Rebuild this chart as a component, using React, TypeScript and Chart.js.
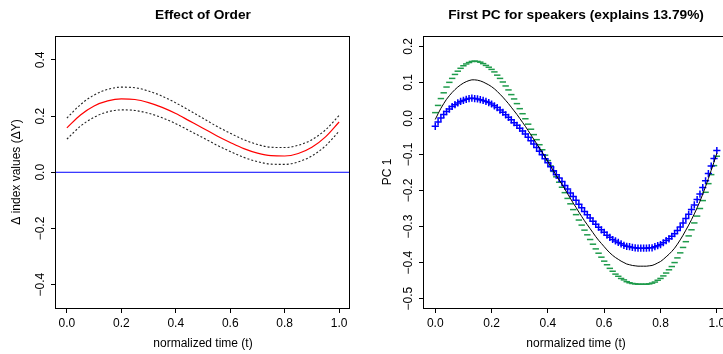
import React, { useEffect, useRef } from 'react';
import { Chart, registerables } from 'chart.js';

Chart.register(...registerables);

const FONT_FAMILY = "'Liberation Sans', Arial, Helvetica, sans-serif";

// ---------- Left panel: Effect of Order ----------
const orderTime = [0, 0.05, 0.1, 0.15, 0.2, 0.25, 0.3, 0.35, 0.4, 0.45, 0.5, 0.55, 0.6, 0.65, 0.7, 0.75, 0.8, 0.85, 0.9, 0.95, 1.0];
const orderEffect = [0.158, 0.204, 0.236, 0.254, 0.261, 0.259, 0.248, 0.231, 0.209, 0.183, 0.157, 0.130, 0.106, 0.084, 0.068, 0.059, 0.058, 0.067, 0.089, 0.126, 0.179];
const orderUpper = [0.193, 0.241, 0.275, 0.295, 0.303, 0.301, 0.289, 0.271, 0.247, 0.220, 0.192, 0.164, 0.139, 0.116, 0.099, 0.089, 0.088, 0.096, 0.116, 0.151, 0.202];
const orderLower = [0.118, 0.164, 0.196, 0.215, 0.222, 0.220, 0.210, 0.194, 0.173, 0.148, 0.123, 0.097, 0.074, 0.053, 0.038, 0.029, 0.028, 0.037, 0.058, 0.094, 0.146];
const zeroLineX = [-0.04, 1.04];
const zeroLineY = [0, 0];

// ---------- Right panel: First PC for speakers ----------
const pcTime = [
  0.00, 0.01, 0.02, 0.03, 0.04, 0.05, 0.06, 0.07, 0.08, 0.09,
  0.10, 0.11, 0.12, 0.13, 0.14, 0.15, 0.16, 0.17, 0.18, 0.19,
  0.20, 0.21, 0.22, 0.23, 0.24, 0.25, 0.26, 0.27, 0.28, 0.29,
  0.30, 0.31, 0.32, 0.33, 0.34, 0.35, 0.36, 0.37, 0.38, 0.39,
  0.40, 0.41, 0.42, 0.43, 0.44, 0.45, 0.46, 0.47, 0.48, 0.49,
  0.50, 0.51, 0.52, 0.53, 0.54, 0.55, 0.56, 0.57, 0.58, 0.59,
  0.60, 0.61, 0.62, 0.63, 0.64, 0.65, 0.66, 0.67, 0.68, 0.69,
  0.70, 0.71, 0.72, 0.73, 0.74, 0.75, 0.76, 0.77, 0.78, 0.79,
  0.80, 0.81, 0.82, 0.83, 0.84, 0.85, 0.86, 0.87, 0.88, 0.89,
  0.90, 0.91, 0.92, 0.93, 0.94, 0.95, 0.96, 0.97, 0.98, 0.99,
  1.00,
];
const pcMean = [
  -0.003, 0.013, 0.028, 0.041, 0.053, 0.063, 0.072, 0.080, 0.087, 0.093,
  0.098, 0.102, 0.105, 0.107, 0.107, 0.106, 0.104, 0.101, 0.097, 0.093,
  0.088, 0.082, 0.075, 0.067, 0.059, 0.050, 0.041, 0.031, 0.021, 0.011,
  0.000, -0.011, -0.022, -0.034, -0.046, -0.058, -0.070, -0.082, -0.094, -0.107,
  -0.120, -0.133, -0.146, -0.159, -0.171, -0.183, -0.196, -0.209, -0.222, -0.235,
  -0.247, -0.260, -0.272, -0.284, -0.295, -0.306, -0.317, -0.328, -0.338, -0.347,
  -0.356, -0.365, -0.373, -0.380, -0.386, -0.391, -0.396, -0.400, -0.404, -0.406,
  -0.408, -0.409, -0.410, -0.410, -0.410, -0.410, -0.409, -0.408, -0.405, -0.401,
  -0.397, -0.391, -0.384, -0.377, -0.369, -0.360, -0.349, -0.337, -0.324, -0.310,
  -0.296, -0.281, -0.265, -0.248, -0.230, -0.210, -0.189, -0.167, -0.144, -0.121,
  -0.097,
];
const pcPlus = [
  0.016, 0.036, 0.055, 0.071, 0.087, 0.100, 0.111, 0.122, 0.131, 0.139,
  0.146, 0.151, 0.155, 0.158, 0.159, 0.158, 0.156, 0.152, 0.147, 0.142,
  0.136, 0.129, 0.120, 0.111, 0.101, 0.090, 0.079, 0.066, 0.054, 0.041,
  0.027, 0.013, -0.001, -0.016, -0.030, -0.045, -0.059, -0.073, -0.087, -0.102,
  -0.117, -0.132, -0.147, -0.162, -0.177, -0.191, -0.206, -0.222, -0.237, -0.253,
  -0.267, -0.282, -0.296, -0.310, -0.323, -0.336, -0.349, -0.362, -0.374, -0.385,
  -0.396, -0.406, -0.416, -0.424, -0.432, -0.438, -0.444, -0.448, -0.453, -0.456,
  -0.458, -0.459, -0.460, -0.460, -0.460, -0.460, -0.459, -0.457, -0.454, -0.449,
  -0.444, -0.437, -0.429, -0.420, -0.411, -0.400, -0.387, -0.373, -0.358, -0.342,
  -0.326, -0.309, -0.290, -0.271, -0.250, -0.228, -0.205, -0.181, -0.156, -0.131,
  -0.105,
];
const pcMinus = [
  -0.022, -0.010, 0.001, 0.011, 0.019, 0.026, 0.033, 0.038, 0.043, 0.047,
  0.050, 0.053, 0.055, 0.056, 0.055, 0.054, 0.052, 0.050, 0.047, 0.044,
  0.040, 0.035, 0.030, 0.023, 0.017, 0.010, 0.003, -0.004, -0.012, -0.019,
  -0.027, -0.035, -0.043, -0.052, -0.062, -0.071, -0.081, -0.091, -0.101, -0.112,
  -0.123, -0.134, -0.145, -0.156, -0.165, -0.175, -0.186, -0.196, -0.207, -0.217,
  -0.227, -0.238, -0.248, -0.258, -0.267, -0.276, -0.285, -0.294, -0.302, -0.309,
  -0.316, -0.324, -0.330, -0.336, -0.340, -0.344, -0.348, -0.352, -0.355, -0.356,
  -0.358, -0.359, -0.360, -0.360, -0.360, -0.360, -0.359, -0.359, -0.356, -0.353,
  -0.350, -0.345, -0.339, -0.334, -0.327, -0.320, -0.311, -0.301, -0.290, -0.278,
  -0.266, -0.253, -0.240, -0.225, -0.210, -0.192, -0.173, -0.153, -0.132, -0.111,
  -0.089,
];

// ---------- Axes ----------
const xTicks = [0, 0.2, 0.4, 0.6, 0.8, 1.0];
const leftYTicks = [-0.4, -0.2, 0, 0.2, 0.4];
const rightYTicks = [-0.5, -0.4, -0.3, -0.2, -0.1, 0, 0.1, 0.2];

const TICK_LEN = 5;
const Y_LABEL_OFFSET = 15; // distance from box edge to centre of rotated tick labels

const fmt = (v: number) => Number(v).toFixed(1).replace('-', '\u2212');

const pts = (xs: number[], ys: number[]) => xs.map((x, i) => ({ x, y: ys[i] }));

const boxPlugin = {
  id: 'rBox',
  afterDatasetsDraw(chart: any) {
    const { ctx, chartArea: a } = chart;
    ctx.save();
    ctx.strokeStyle = '#000';
    ctx.lineWidth = 1;
    const l = Math.round(a.left) - 0.5;
    const t = Math.round(a.top) + 0.5;
    const r = Math.round(a.right) - 0.5;
    const b = Math.round(a.bottom) + 0.5;
    ctx.strokeRect(l, t, r - l, b - t);
    ctx.restore();
  },
};

interface PanelSpec {
  title: string;
  yTitle: string;
  yTitlePad: number;
  yMin: number;
  yMax: number;
  yTicks: number[];
  yWidth: number;
  padRight: number;
  datasets: any[];
}

function buildConfig(p: PanelSpec): any {
  const mctx = document.createElement('canvas').getContext('2d')!;
  mctx.font = `normal 12px ${FONT_FAMILY}`;
  const widest = Math.max(...p.yTicks.map((v) => mctx.measureText(fmt(v)).width));
  const yPad = Y_LABEL_OFFSET - TICK_LEN - widest / 2;
  const tickFont = { family: FONT_FAMILY, size: 12 };
  return {
    type: 'line',
    data: { datasets: p.datasets },
    options: {
      animation: false,
      responsive: false,
      events: [],
      layout: { padding: { left: 0, right: p.padRight, top: 0, bottom: 0 } },
      plugins: {
        legend: { display: false },
        tooltip: { enabled: false },
        title: {
          display: true,
          text: p.title,
          fullSize: false,
          color: '#000',
          font: { family: FONT_FAMILY, size: 13.7, weight: 'bold' },
          padding: { top: 7.1, bottom: 12.46 },
        },
      },
      scales: {
        x: {
          type: 'linear',
          position: 'bottom',
          min: -0.04,
          max: 1.04,
          afterBuildTicks: (s: any) => {
            s.ticks = xTicks.map((v) => ({ value: v }));
          },
          afterFit: (s: any) => {
            s.height = 46;
            s.paddingLeft = 0;
            s.paddingRight = 0;
          },
          border: { display: false },
          grid: { display: true, drawOnChartArea: false, drawTicks: true, tickLength: TICK_LEN, color: '#000', lineWidth: 1 },
          ticks: {
            autoSkip: false,
            maxRotation: 0,
            minRotation: 0,
            padding: 3.9,
            color: '#000',
            font: tickFont,
            callback: (v: any) => fmt(Number(v)),
          },
          title: {
            display: true,
            text: 'normalized time (t)',
            color: '#000',
            font: { family: FONT_FAMILY, size: 12 },
            padding: { top: 0, bottom: 3.3 },
          },
        },
        y: {
          type: 'linear',
          position: 'left',
          min: p.yMin,
          max: p.yMax,
          afterBuildTicks: (s: any) => {
            s.ticks = p.yTicks.map((v) => ({ value: v }));
          },
          afterFit: (s: any) => {
            s.width = p.yWidth;
            s.paddingTop = 0;
            s.paddingBottom = 0;
          },
          border: { display: false },
          grid: { display: true, drawOnChartArea: false, drawTicks: true, tickLength: TICK_LEN, color: '#000', lineWidth: 1 },
          ticks: {
            autoSkip: false,
            minRotation: 90,
            maxRotation: 90,
            crossAlign: 'center',
            padding: yPad,
            color: '#000',
            font: tickFont,
            callback: (v: any) => fmt(Number(v)),
          },
          title: {
            display: true,
            text: p.yTitle,
            color: '#000',
            font: { family: FONT_FAMILY, size: 12 },
            padding: { top: p.yTitlePad, bottom: 0 },
          },
        },
      },
    },
    plugins: [boxPlugin],
  };
}

const leftSpec: PanelSpec = {
  title: 'Effect of Order',
  yTitle: '\u0394 index values (\u0394Y)',
  yTitlePad: 9.0,
  yMin: -0.483,
  yMax: 0.485,
  yTicks: leftYTicks,
  yWidth: 56,
  padRight: 11,
  datasets: [
    {
      data: pts(orderTime, orderEffect),
      borderColor: '#FF0000',
      borderWidth: 1.2,
      pointRadius: 0,
      cubicInterpolationMode: 'monotone',
      fill: false,
    },
    {
      data: pts(orderTime, orderUpper),
      borderColor: '#222',
      borderWidth: 1.1,
      borderDash: [2, 2],
      pointRadius: 0,
      cubicInterpolationMode: 'monotone',
      fill: false,
    },
    {
      data: pts(orderTime, orderLower),
      borderColor: '#222',
      borderWidth: 1.1,
      borderDash: [2, 2],
      pointRadius: 0,
      cubicInterpolationMode: 'monotone',
      fill: false,
    },
    {
      data: pts(zeroLineX, zeroLineY),
      borderColor: '#0000FF',
      borderWidth: 1,
      pointRadius: 0,
      fill: false,
    },
  ],
};

const rightSpec: PanelSpec = {
  title: 'First PC for speakers (explains 13.79%)',
  yTitle: 'PC 1',
  yTitlePad: 19.1,
  yMin: -0.526,
  yMax: 0.2286,
  yTicks: rightYTicks,
  yWidth: 63,
  padRight: 32.9,
  datasets: [
    {
      data: pts(pcTime, pcMean),
      borderColor: '#000',
      borderWidth: 1,
      pointRadius: 0,
      tension: 0,
      fill: false,
    },
    {
      data: pts(pcTime, pcMinus),
      showLine: false,
      pointStyle: 'cross',
      pointRadius: 3.6,
      pointBorderWidth: 1.5,
      pointBorderColor: '#0000FF',
      pointBackgroundColor: '#0000FF',
      borderColor: '#0000FF',
    },
    {
      data: pts(pcTime, pcPlus),
      showLine: false,
      pointStyle: 'line',
      pointRadius: 3.2,
      pointBorderWidth: 1.5,
      pointBorderColor: 'rgb(30,155,75)',
      pointBackgroundColor: 'rgb(30,155,75)',
      borderColor: 'rgb(30,155,75)',
    },
  ],
};

export default function App() {
  const leftRef = useRef<HTMLCanvasElement | null>(null);
  const rightRef = useRef<HTMLCanvasElement | null>(null);

  useEffect(() => {
    const charts: Chart[] = [];
    if (leftRef.current) charts.push(new Chart(leftRef.current, buildConfig(leftSpec)));
    if (rightRef.current) charts.push(new Chart(rightRef.current, buildConfig(rightSpec)));
    return () => {
      charts.forEach((c) => c.destroy());
    };
  }, []);

  return (
    <div
      style={{
        position: 'fixed',
        left: 0,
        top: 0,
        width: 723,
        height: 354,
        overflow: 'hidden',
        background: '#fff',
      }}
    >
      <canvas
        ref={leftRef}
        width={361}
        height={354}
        style={{ position: 'absolute', left: 0, top: 0, width: 361, height: 354 }}
      />
      <canvas
        ref={rightRef}
        width={400}
        height={354}
        style={{ position: 'absolute', left: 361, top: 0, width: 400, height: 354 }}
      />
    </div>
  );
}
